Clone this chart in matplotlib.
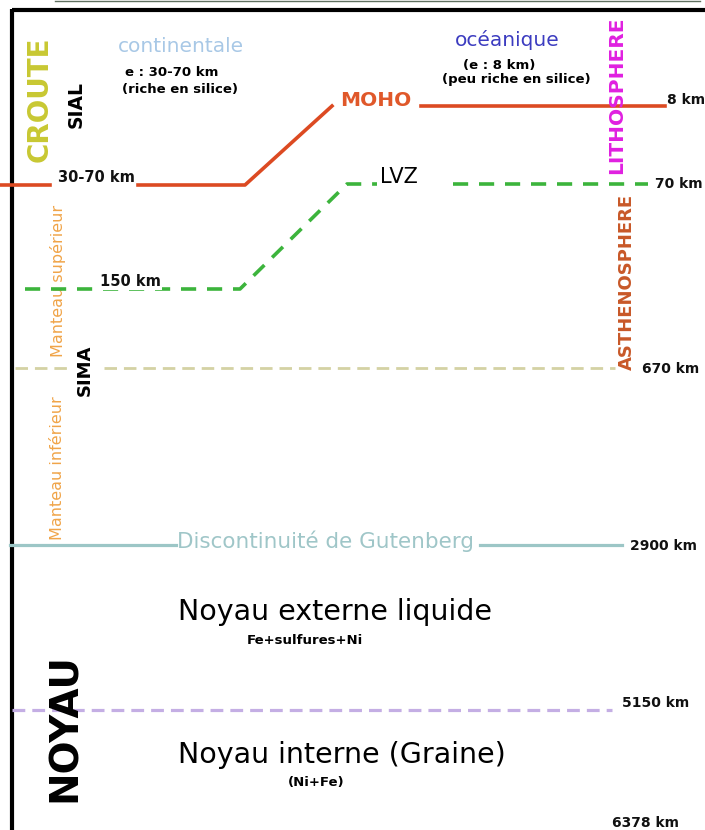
import numpy as np
import matplotlib.pyplot as plt

# schematic profiles of the discontinuities (x along the section, y = level on the sheet)
moho_x = [0, 50, np.nan, 138, 245, 332, np.nan, 421, 665]
moho_y = [185, 185, np.nan, 185, 185, 106, np.nan, 106, 106]

lvz_x = [25, 240, 347, 377, np.nan, 453, 648]
lvz_y = [289, 289, 184, 184, np.nan, 184, 184]

mant_x = [15, 68, np.nan, 104, 615]
mant_y = [368, 368, np.nan, 368, 368]

guten_x = [10, 176, np.nan, 480, 622]
guten_y = [545, 545, np.nan, 545, 545]

graine_x = [12, 612]
graine_y = [710, 710]

depth_labels = ['8 km', '70 km', '670 km', '2900 km', '5150 km', '6378 km']
depth_x = [667, 655, 642, 630, 622, 612]
depth_y = [100, 184, 369, 546, 703, 823]

W, H = 705, 830
fig = plt.figure(figsize=(W / 100, H / 100), dpi=100)
ax = fig.add_axes([0, 0, 1, 1])
ax.set_xlim(0, W)
ax.set_ylim(H, 0)
ax.axis('off')

# frame
ax.plot([55, 700], [1, 1], color='#5f7060', lw=1)
ax.plot([12, W], [10, 10], color='black', lw=3, solid_capstyle='butt')
ax.plot([12, 12], [9, H], color='black', lw=3, solid_capstyle='butt')

# boundaries
ax.plot(moho_x, moho_y, color='#dc4a22', lw=2.6)
ax.plot(lvz_x, lvz_y, color='#3cb43c', lw=2.6, dashes=(4.2, 3.0))
ax.plot(mant_x, mant_y, color='#d4d2a4', lw=2.0, dashes=(4.5, 2.5))
ax.plot(guten_x, guten_y, color='#9cc6c6', lw=2.3)
ax.plot(graine_x, graine_y, color='#c4aee4', lw=2.3, dashes=(4.0, 2.2))

bold = dict(fontweight='bold', family='DejaVu Sans')
for lab, x, y in zip(depth_labels, depth_x, depth_y):
    ax.text(x, y, lab, ha='left', va='center', fontsize=10, color='#111111', **bold)

# crust
ax.text(40, 99, 'CROUTE', rotation=90, ha='center', va='center', fontsize=20, color='#c8c832', **bold)
ax.text(76, 104, 'SIAL', rotation=90, ha='center', va='center', fontsize=13.5, color='black', **bold)
ax.text(181, 47, 'continentale', ha='center', va='center', fontsize=14.5, color='#a8c8e6')
ax.text(172, 73, 'e : 30-70 km', ha='center', va='center', fontsize=9.5, color='black', **bold)
ax.text(180, 89, '(riche en silice)', ha='center', va='center', fontsize=9.5, color='black', **bold)
ax.text(507, 40, 'océanique', ha='center', va='center', fontsize=14.5, color='#3c3cc0')
ax.text(499, 65, '(e : 8 km)', ha='center', va='center', fontsize=9.5, color='black', **bold)
ax.text(516, 80, '(peu riche en silice)', ha='center', va='center', fontsize=9.5, color='black', **bold)
ax.text(617, 95, 'LITHOSPHERE', rotation=90, ha='center', va='center', fontsize=14.5,
        color='#e020e0', zorder=3, **bold)
ax.text(340, 101, 'MOHO', ha='left', va='center', fontsize=14.5, color='#e0582a', **bold)
ax.text(58, 178, '30-70 km', ha='left', va='center', fontsize=10.5, color='#111111', **bold)
ax.text(380, 177, 'LVZ', ha='left', va='center', fontsize=15, color='black')

# mantle
ax.text(58, 281, 'Manteau supérieur', rotation=90, ha='center', va='center', fontsize=11.5,
        color='#f0a448', zorder=1)
ax.text(100, 281, '150 km', ha='left', va='center', fontsize=10.5, color='#111111',
        bbox=dict(fc='white', ec='none', pad=1), zorder=4, **bold)
ax.text(627, 282, 'ASTHENOSPHERE', rotation=90, ha='center', va='center', fontsize=13,
        color='#c85828', **bold)
ax.text(85, 370, 'SIMA', rotation=90, ha='center', va='center', fontsize=13, color='black', **bold)
ax.text(58, 468, 'Manteau inférieur', rotation=90, ha='center', va='center', fontsize=11.5,
        color='#f0a448')
ax.text(177, 541, 'Discontinuité de Gutenberg', ha='left', va='center', fontsize=15.5,
        color='#9fc6c8')

# core
ax.text(178, 612, 'Noyau externe liquide', ha='left', va='center', fontsize=20.5, color='black')
ax.text(305, 640, 'Fe+sulfures+Ni', ha='center', va='center', fontsize=9.5, color='black', **bold)
ax.text(65, 727, 'NOYAU', rotation=90, ha='center', va='center', fontsize=28, color='black', **bold)
ax.text(178, 755, 'Noyau interne (Graine)', ha='left', va='center', fontsize=20.5, color='black')
ax.text(316, 782, '(Ni+Fe)', ha='center', va='center', fontsize=9.5, color='black', **bold)

fig.savefig('out.png', dpi=100, facecolor='white')
